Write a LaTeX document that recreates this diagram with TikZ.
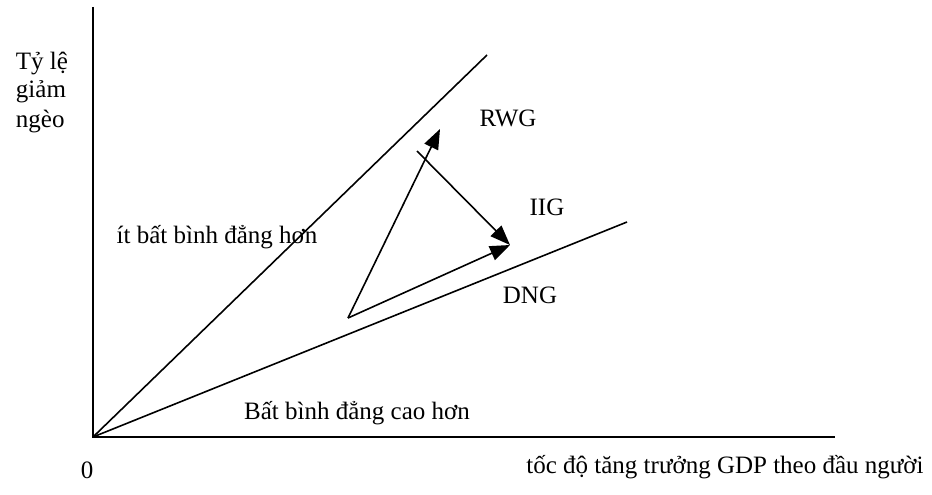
\documentclass[tikz,border=0pt]{standalone}
\usepackage{fontspec}
\setmainfont{Liberation Serif}
\usetikzlibrary{arrows.meta}
\begin{document}
\begin{tikzpicture}[x=1pt,y=-1pt,line width=1.6pt,
  lbl/.style={inner sep=0pt,font=\fontsize{25}{29}\selectfont}]
\useasboundingbox (0,0) rectangle (932,495);
\coordinate (O) at (93,437);
\coordinate (ytop) at (93,7);
\coordinate (xend) at (835,437);
\coordinate (hi) at (487,55);
\coordinate (lo) at (627,222);
\coordinate (s) at (348,318);
\coordinate (r) at (440,129);
\coordinate (q) at (417,151);
\coordinate (d) at (510,245);

\draw (ytop) -- (O) -- (xend);
\draw (O) -- (hi);
\draw (O) -- (lo);
\draw [>={Triangle[length=20pt,width=15pt]},->] (s) -- (r);
\draw [>={Triangle[length=20pt,width=15pt]},->] (q) -- (d);
\draw [>={Triangle[length=20pt,width=15pt]},->] (s) -- (d);

\node[lbl,align=left] (ylab) at (42,92) {Tỷ lệ\\giảm\\ngèo};
\node[lbl] (rwg) at (508,118) {RWG};
\node[lbl] (iig) at (547,207) {IIG};
\node[lbl] (dng) at (530,295) {DNG};
\node[lbl] (less) at (217,237) {ít bất bình đẳng hơn};
\node[lbl] (more) at (357,413) {Bất bình đẳng cao hơn};
\node[lbl] (zero) at (87,470) {0};
\node[lbl] (xlab) at (725,467) {tốc độ tăng trưởng GDP theo đầu người};
\end{tikzpicture}
\end{document}
